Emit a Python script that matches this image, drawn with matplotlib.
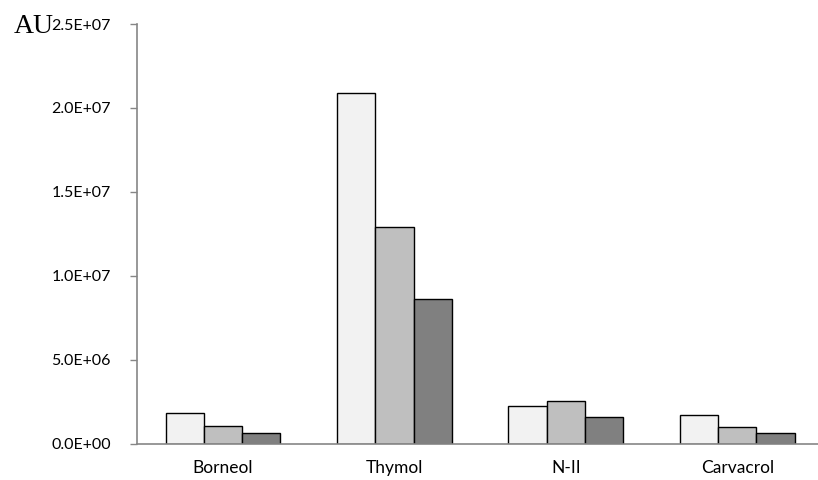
import matplotlib
matplotlib.use("Agg")
import matplotlib.pyplot as plt
import numpy as np

categories = ["Borneol", "Thymol", "N-II", "Carvacrol"]
series_a = [1.85e6, 20.9e6, 2.26e6, 1.73e6]
series_b = [1.07e6, 12.93e6, 2.52e6, 0.99e6]
series_c = [0.65e6, 8.63e6, 1.59e6, 0.61e6]
yticks = [0, 5e6, 1e7, 1.5e7, 2e7, 2.5e7]
ytick_labels = ["0.0E+00", "5.0E+06", "1.0E+07", "1.5E+07", "2.0E+07", "2.5E+07"]

fig = plt.figure(figsize=(8.18, 4.80), dpi=100)
ax = fig.add_axes([137.3 / 818, 36.3 / 480, 685.6 / 818, 419.7 / 480])

x = np.arange(len(categories))
w = 0.223
colors = ["#f2f2f2", "#bfbfbf", "#808080"]
for i, (vals, c) in enumerate(zip([series_a, series_b, series_c], colors)):
    ax.bar(x + (i - 1) * w, vals, width=w, color=c, edgecolor="black", linewidth=1.0)

ax.set_xlim(-0.5, 3.5)
ax.set_ylim(0, 2.5e7)
ax.set_yticks(yticks)
ax.set_yticklabels(ytick_labels, fontsize=11.5, family="Lato")
ax.set_xticks(x)
ax.set_xticklabels(categories, fontsize=12.5, family="Lato")
ax.tick_params(axis="x", length=0, pad=12)
ax.tick_params(axis="y", length=5, color="#868686", width=1, pad=14)

for s in ["top", "right"]:
    ax.spines[s].set_visible(False)
for s in ["left", "bottom"]:
    ax.spines[s].set_color("#868686")
    ax.spines[s].set_linewidth(1.2)

fig.text(14 / 818, 1 - 33 / 480, "AU", family="Liberation Serif", fontsize=20,
         va="baseline", ha="left")

fig.savefig("out.png", dpi=100)
